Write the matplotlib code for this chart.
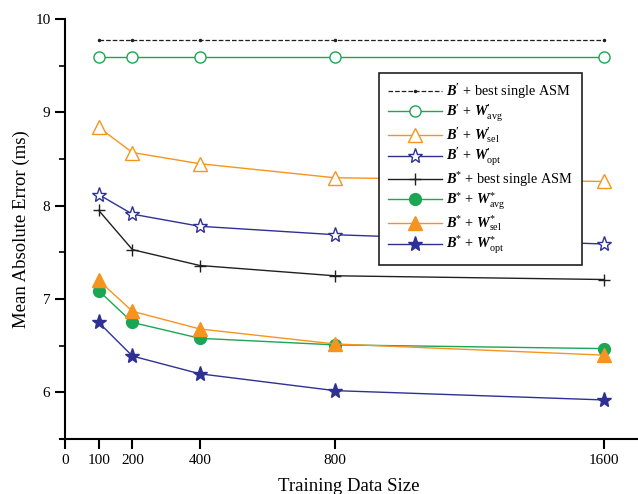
import matplotlib
matplotlib.use("Agg")
import matplotlib.pyplot as plt
from matplotlib.ticker import MultipleLocator

plt.rcParams['font.family'] = ['Liberation Serif', 'DejaVu Serif']
plt.rcParams['mathtext.fontset'] = 'custom'
plt.rcParams['mathtext.rm'] = 'Liberation Serif'
plt.rcParams['mathtext.it'] = 'Liberation Serif:italic'
plt.rcParams['mathtext.bf'] = 'Liberation Serif:bold'
plt.rcParams['mathtext.bfit'] = 'Liberation Serif:bold:italic'

# data
sizes = [100, 200, 400, 800, 1600]
bp_best = [9.78, 9.78, 9.78, 9.78, 9.78]
bp_avg = [9.59, 9.59, 9.59, 9.59, 9.59]
bp_sel = [8.84, 8.57, 8.45, 8.30, 8.26]
bp_opt = [8.12, 7.91, 7.78, 7.69, 7.59]
bs_best = [7.95, 7.53, 7.36, 7.25, 7.21]
bs_avg = [7.09, 6.75, 6.58, 6.51, 6.47]
bs_sel = [7.20, 6.87, 6.68, 6.52, 6.40]
bs_opt = [6.75, 6.39, 6.20, 6.02, 5.92]
xticks = [0, 100, 200, 400, 800, 1600]

green = '#1aa652'
orange = '#f7941d'
blue = '#2e3192'
black = '#231f20'

fig = plt.figure(figsize=(6.38, 4.94), dpi=100)
ax = fig.add_axes([0.094, 0.111, 0.906, 0.8505])

lw = 1.0
ax.plot(sizes, bp_best, ls='--', color=black, lw=0.9, marker='.', ms=3,
        label=r"$\mathbfit{B}^{\mathbf{\prime}}$ + best single ASM")
ax.plot(sizes, bp_avg, color=green, lw=lw, marker='o', ms=8, mfc='white', mec=green, mew=1.0,
        label=r"$\mathbfit{B}^{\mathbf{\prime}}$ + $\mathbfit{W}^{\mathbf{\prime}}_{\mathrm{avg}}$")
ax.plot(sizes, bp_sel, color=orange, lw=lw, marker='^', ms=10, mfc='white', mec=orange, mew=1.0,
        label=r"$\mathbfit{B}^{\mathbf{\prime}}$ + $\mathbfit{W}^{\mathbf{\prime}}_{\mathrm{sel}}$")
ax.plot(sizes, bp_opt, color=blue, lw=lw, marker='*', ms=11, mfc='white', mec=blue, mew=1.0,
        label=r"$\mathbfit{B}^{\mathbf{\prime}}$ + $\mathbfit{W}^{\mathbf{\prime}}_{\mathrm{opt}}$")
ax.plot(sizes, bs_best, color=black, lw=lw, marker='+', ms=9, mew=1.0,
        label=r"$\mathbfit{B}^{*}$ + best single ASM")
ax.plot(sizes, bs_avg, color=green, lw=lw, marker='o', ms=8.5, mfc=green, mec=green,
        label=r"$\mathbfit{B}^{*}$ + $\mathbfit{W}^{*}_{\mathrm{avg}}$")
ax.plot(sizes, bs_sel, color=orange, lw=lw, marker='^', ms=10, mfc=orange, mec=orange,
        label=r"$\mathbfit{B}^{*}$ + $\mathbfit{W}^{*}_{\mathrm{sel}}$")
ax.plot(sizes, bs_opt, color=blue, lw=lw, marker='*', ms=11, mfc=blue, mec=blue,
        label=r"$\mathbfit{B}^{*}$ + $\mathbfit{W}^{*}_{\mathrm{opt}}$")

ax.set_xlim(-15, 1700)
ax.set_ylim(5.5, 10)
ax.set_xticks(xticks)
ax.yaxis.set_major_locator(MultipleLocator(1))
ax.yaxis.set_minor_locator(MultipleLocator(0.5))
ax.spines['top'].set_visible(False)
ax.spines['right'].set_visible(False)
ax.spines['left'].set_position(('data', 0))
ax.spines['left'].set_linewidth(1.5)
ax.spines['bottom'].set_linewidth(1.5)
ax.tick_params(axis='both', which='major', direction='out', length=7, width=1.5, labelsize=11)
ax.tick_params(axis='y', which='minor', direction='out', length=4, width=1.2)

ax.set_xlabel('Training Data Size', fontsize=13.5, labelpad=8)
ax.set_ylabel('Mean Absolute Error (ms)', fontsize=13.5, labelpad=4)

leg = ax.legend(loc='upper left', bbox_to_anchor=(0.552, 0.871), fontsize=10.3,
                frameon=True, fancybox=False, edgecolor=black, framealpha=1,
                handlelength=3.8, handletextpad=0.3, labelspacing=0.12,
                borderpad=0.6, borderaxespad=0)
leg.get_frame().set_linewidth(1.2)

fig.savefig('out.png', dpi=100)
